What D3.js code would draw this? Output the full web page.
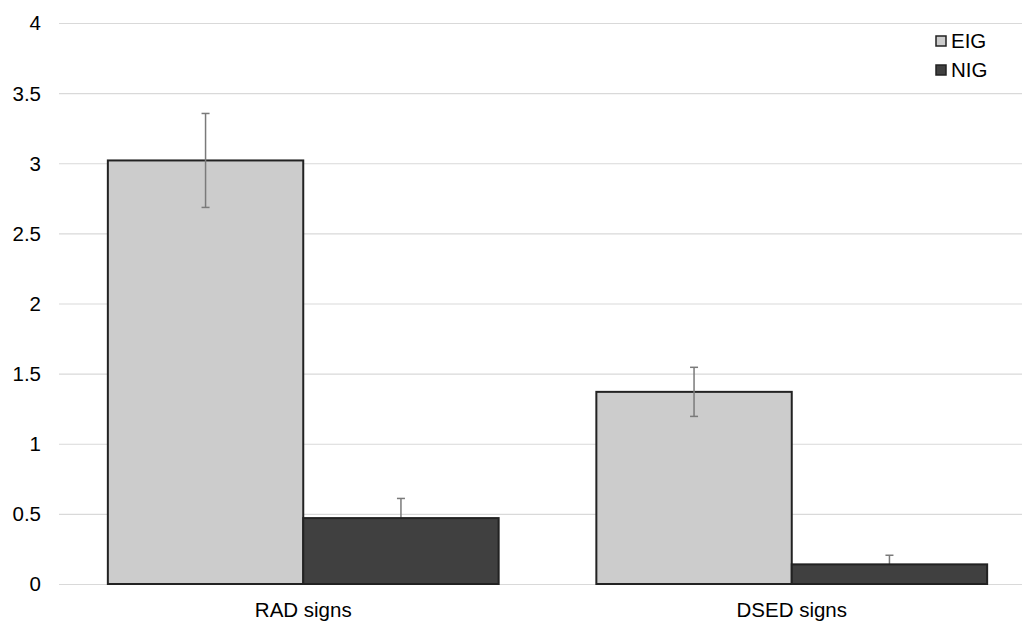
<!DOCTYPE html>
<html>
<head>
<meta charset="utf-8">
<script src="https://cdn.jsdelivr.net/npm/d3@7"></script>
<style>
  body { margin: 0; background: #fff; }
  svg { display: block; font-family: "Liberation Sans", Arial, sans-serif; }
</style>
</head>
<body>
<svg id="chart"></svg>
<script>
const categories = ["RAD signs", "DSED signs"];
const series = ["EIG", "NIG"];
const eigValues = [3.02, 1.37];
const nigValues = [0.47, 0.14];
const eigErrors = [0.335, 0.175];
const nigErrors = [0.14, 0.065];
const yTicks = [0, 0.5, 1, 1.5, 2, 2.5, 3, 3.5, 4];

const width = 1022, height = 622;
const margin = { top: 23, right: -14, bottom: 38, left: 59 };
const colors = { EIG: "#cccccc", NIG: "#404040" };

const svg = d3.select("#chart").attr("width", width).attr("height", height);

const x0 = d3.scaleBand()
    .domain(categories)
    .range([margin.left, width - margin.right])
    .paddingInner(0.2)
    .paddingOuter(0.1);
const x1 = d3.scaleBand().domain(series).range([0, x0.bandwidth()]);
const y = d3.scaleLinear().domain([0, 4]).range([height - margin.bottom, margin.top]);

// gridlines
svg.append("g").selectAll("line")
    .data(yTicks)
    .join("line")
    .attr("x1", margin.left)
    .attr("x2", width - margin.right)
    .attr("y1", d => y(d) + 0.5)
    .attr("y2", d => y(d) + 0.5)
    .attr("stroke", "#d9d9d9")
    .attr("stroke-width", 1.2);

// y labels
svg.append("g").selectAll("text")
    .data(yTicks)
    .join("text")
    .attr("x", 41)
    .attr("y", d => y(d))
    .attr("dy", "0.36em")
    .attr("text-anchor", "end")
    .style("font-size", "20.5px")
    .attr("fill", "#000")
    .text(d => d);

// x labels
svg.append("g").selectAll("text")
    .data(categories)
    .join("text")
    .attr("x", d => x0(d) + x0.bandwidth() / 2)
    .attr("y", 617)
    .attr("text-anchor", "middle")
    .style("font-size", "20.5px")
    .attr("fill", "#000")
    .text(d => d);

const rows = categories.map((c, i) => ({
    cat: c,
    EIG: { v: eigValues[i], e: eigErrors[i] },
    NIG: { v: nigValues[i], e: nigErrors[i] }
}));

function drawBars(key) {
    svg.append("g").selectAll("rect")
        .data(rows)
        .join("rect")
        .attr("x", d => x0(d.cat) + x1(key))
        .attr("y", d => y(d[key].v))
        .attr("width", x1.bandwidth())
        .attr("height", d => y(0) - y(d[key].v))
        .attr("fill", colors[key])
        .attr("stroke", "#222")
        .attr("stroke-width", 2);
}

function drawErrors(key) {
    const g = svg.append("g").attr("stroke", "#7a7a7a").attr("stroke-width", 1.5);
    rows.forEach(d => {
        const cx = x0(d.cat) + x1(key) + x1.bandwidth() / 2;
        const hi = y(d[key].v + d[key].e), lo = y(d[key].v - d[key].e);
        g.append("line").attr("x1", cx).attr("x2", cx).attr("y1", hi).attr("y2", lo);
        g.append("line").attr("x1", cx - 4).attr("x2", cx + 4).attr("y1", hi).attr("y2", hi);
        g.append("line").attr("x1", cx - 4).attr("x2", cx + 4).attr("y1", lo).attr("y2", lo);
    });
}

drawBars("EIG");
drawErrors("EIG");
drawErrors("NIG");
drawBars("NIG");

// legend
const legend = svg.append("g");
series.forEach((s, i) => {
    const ly = 48 + i * 29;
    legend.append("rect")
        .attr("x", 936).attr("y", ly - 12)
        .attr("width", 10).attr("height", 10)
        .attr("fill", colors[s])
        .attr("stroke", "#222")
        .attr("stroke-width", 1.5);
    legend.append("text")
        .attr("x", 951).attr("y", ly)
        .style("font-size", "20.5px")
        .attr("fill", "#000")
        .text(s);
});
</script>
</body>
</html>
